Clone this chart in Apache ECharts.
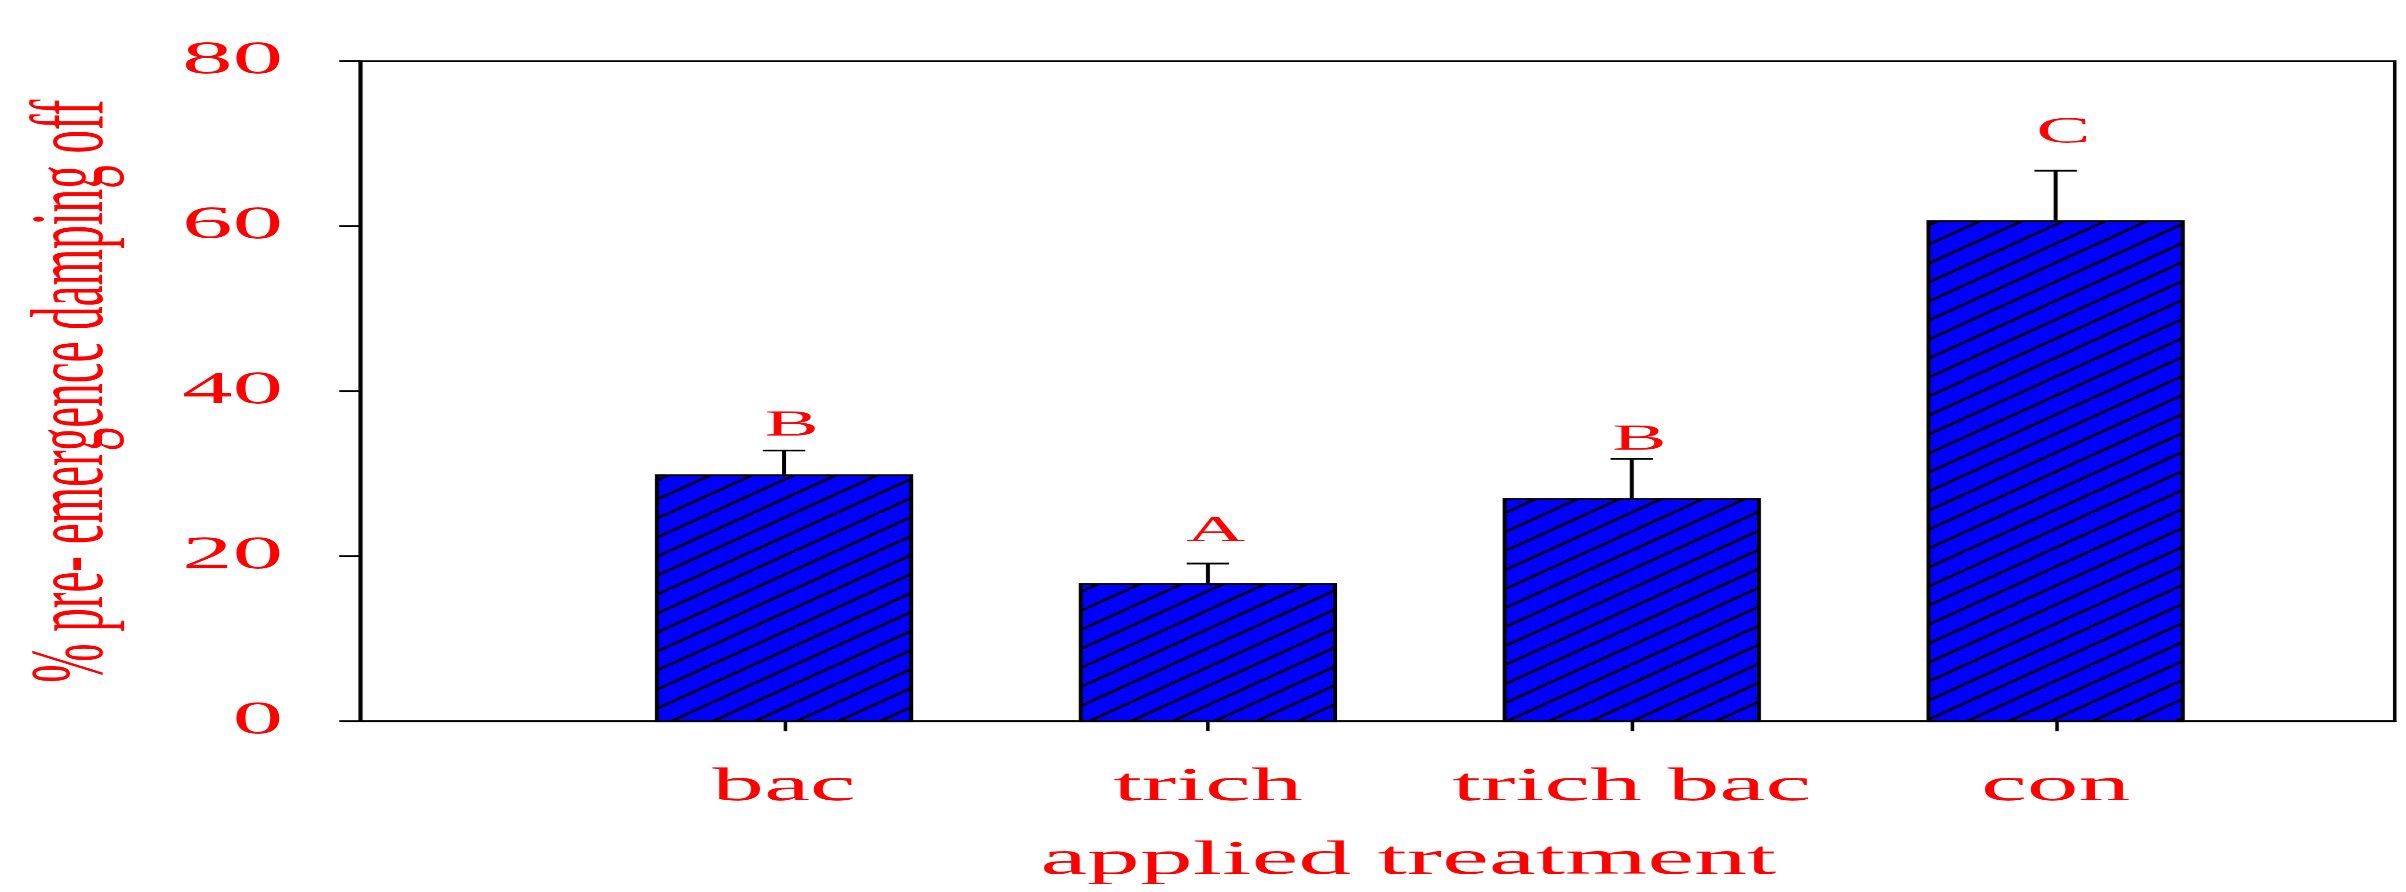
<!DOCTYPE html>
<html>
<head>
<meta charset="utf-8">
<script src="https://cdn.jsdelivr.net/npm/echarts@6/dist/echarts.min.js"></script>
<style>
  html, body { margin: 0; padding: 0; background: #fff; overflow: hidden; }
  /* the original figure is stretched sideways, so draw narrow and stretch */
  #chart { width: 1094px; height: 892px; transform: scaleX(2.1993); transform-origin: 0 0; }
</style>
</head>
<body>
<div id="chart"></div>
<script>
// data
const categories = ["bac", "trich", "trich bac", "con"];
const means = [29.8, 16.6, 26.9, 60.6];
const errors = [3.0, 2.5, 4.9, 6.1];
const letters = ["B", "A", "B", "C"];
const letterAt = [35.8, 23.0, 34.1, 71.3];
const yTicks = [0, 20, 40, 60, 80];

const red = "#ff0000";
const font = "Liberation Serif";

// blue fill with black diagonal hatching (drawn at 4x, scaled back down)
function hatch() {
  const s = 4, n = 19 * s;
  const c = document.createElement("canvas");
  c.width = n;
  c.height = n;
  const ctx = c.getContext("2d");
  ctx.fillStyle = "#0000ff";
  ctx.fillRect(0, 0, n, n);
  ctx.strokeStyle = "#000";
  ctx.lineWidth = 1.9 * s;
  for (let k = -1; k <= 1; k++) {
    ctx.beginPath();
    ctx.moveTo(k * n, n);
    ctx.lineTo(k * n + n, 0);
    ctx.stroke();
  }
  return { image: c, repeat: "repeat", scaleX: 1 / s, scaleY: 1 / s };
}
const pattern = hatch();

const rows = categories.map((c, i) => [i + 1, means[i], errors[i], letterAt[i]]);

const chart = echarts.init(document.getElementById("chart"), null, {
  renderer: "canvas",
  devicePixelRatio: 2.2
});

chart.setOption({
  animation: false,
  grid: {
    left: 163.7,
    right: 5.5,
    top: 61,
    bottom: 171,
    show: true,
    borderColor: "#000",
    borderWidth: 1.6
  },
  xAxis: {
    type: "value",
    min: 0,
    max: 4.8,
    interval: 1,
    name: "applied treatment",
    nameLocation: "middle",
    nameGap: 116,
    nameTextStyle: { color: red, fontFamily: font, fontSize: 48, padding: [0, 0, 0, 28] },
    axisLine: { lineStyle: { color: "#000", width: 1.8 } },
    axisTick: { show: true, customValues: [1, 2, 3, 4], length: 10, lineStyle: { color: "#000", width: 1.6 } },
    axisLabel: {
      customValues: [1, 2, 3, 4],
      formatter: v => categories[v - 1] || "",
      color: red,
      fontFamily: font,
      fontSize: 47,
      margin: 43
    },
    splitLine: { show: false }
  },
  yAxis: {
    type: "value",
    min: 0,
    max: 80,
    interval: 20,
    name: "% pre- emergence damping off",
    nameLocation: "middle",
    nameGap: 106,
    nameTextStyle: { color: red, fontFamily: font, fontSize: 47 },
    axisLine: { show: true, lineStyle: { color: "#000", width: 1.6 } },
    axisTick: { show: true, length: 9.5, lineStyle: { color: "#000", width: 1.8 } },
    axisLabel: {
      formatter: v => (yTicks.indexOf(v) >= 0 ? String(v) : ""),
      color: red,
      fontFamily: font,
      fontSize: 46,
      margin: 35
    },
    splitLine: { show: false }
  },
  series: [
    {
      type: "custom",
      data: rows,
      encode: { x: 0, y: 1 },
      renderItem: (params, api) => {
        const x = api.value(0);
        const top = api.coord([x, api.value(1)]);
        const base = api.coord([x, 0]);
        const errTop = api.coord([x, api.value(1) + api.value(2)]);
        const lab = api.coord([x, api.value(3)]);
        const w = api.size([0.6, 0])[0];
        const cap = api.size([0.1, 0])[0];
        return {
          type: "group",
          children: [
            {
              type: "line",
              shape: { x1: top[0], y1: top[1], x2: errTop[0], y2: errTop[1] },
              style: { stroke: "#000", lineWidth: 1.8 }
            },
            {
              type: "line",
              shape: { x1: errTop[0] - cap / 2, y1: errTop[1], x2: errTop[0] + cap / 2, y2: errTop[1] },
              style: { stroke: "#000", lineWidth: 1.8 }
            },
            {
              type: "rect",
              shape: { x: top[0] - w / 2, y: top[1], width: w, height: base[1] - top[1] },
              style: { fill: pattern, stroke: "#000", lineWidth: 1.8 }
            },
            {
              type: "text",
              x: lab[0] + 3.5,
              y: lab[1],
              style: {
                text: letters[params.dataIndex],
                fill: red,
                font: "37px " + font,
                align: "center",
                verticalAlign: "middle"
              }
            }
          ]
        };
      }
    }
  ]
});
</script>
</body>
</html>
